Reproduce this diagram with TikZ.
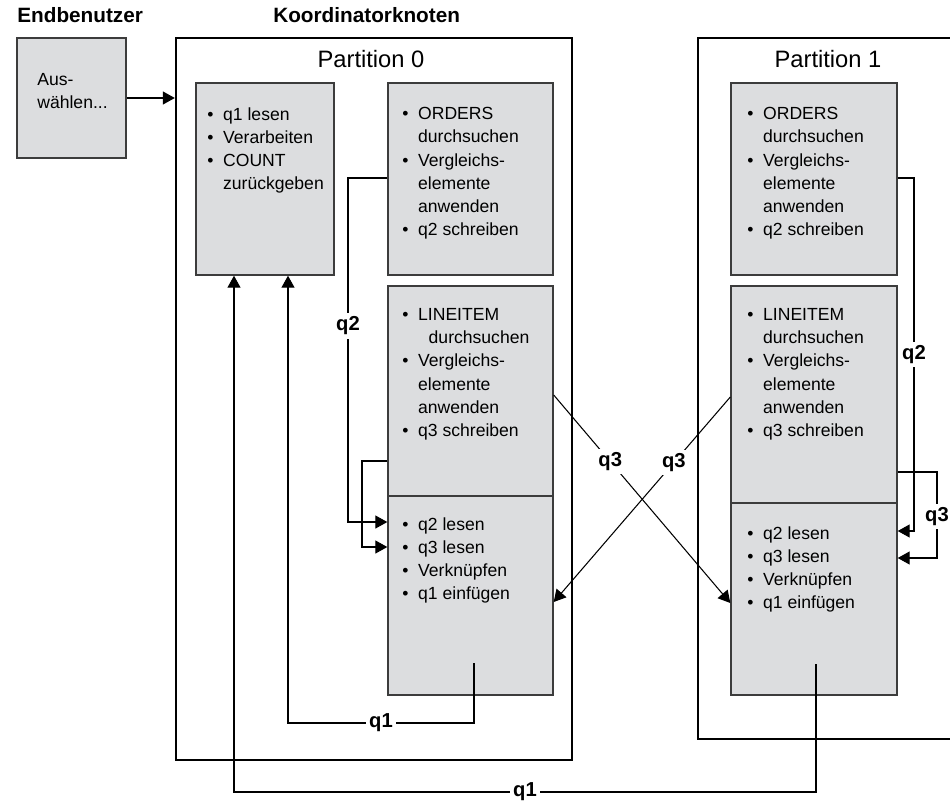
\documentclass[tikz,border=0pt]{standalone}
\usepackage{fontspec}
\setmainfont{Liberation Sans}
\usetikzlibrary{arrows.meta}
\definecolor{boxgray}{RGB}{220,221,223}
\definecolor{edgegray}{RGB}{60,60,60}
\newcommand{\bul}{\makebox[9pt][l]{\textbullet}}
\tikzset{
	partframe/.style={draw=black, line width=1.4pt},
	taskbox/.style={draw=edgegray, fill=boxgray, line width=0.8pt, inner sep=0pt},
	tasktext/.style={anchor=north west, inner sep=0pt, align=left, font=\fontsize{10}{13.2}\selectfont},
	flow/.style={draw=black, line width=0.6pt, -{Triangle[length=6.8pt,width=7.4pt]}},
	qlabel/.style={fill=white, inner sep=2pt, font=\fontsize{11.5}{13}\selectfont\bfseries},
	headline/.style={anchor=base west, inner sep=0pt, font=\fontsize{11.8}{14}\selectfont\bfseries},
	partlabel/.style={anchor=base, inner sep=0pt, font=\fontsize{13.5}{16}\selectfont}
}

\begin{document}
\begin{tikzpicture}[x=0.2mm, y=-0.2mm]
			%%%%% START %%%%%
			\useasboundingbox (0,0) rectangle (950,805);
			
			\node[headline] (user) at (17,23) {Endbenutzer};
			\node[headline] (coordhead) at (273,23) {Koordinatorknoten};
			
			\node[partframe, minimum width=79.2mm, minimum height=144.4mm] (part0) at (374,399) {};
			\draw[partframe] (950,38) -- (698,38) -- (698,739) -- (950,739);
			\node[partlabel] (part0lbl) at (371,68) {Partition 0};
			\node[partlabel] (part1lbl) at (828,68) {Partition 1};
			
			\node[taskbox, minimum width=21.8mm, minimum height=24mm] (aus) at (71.5,98) {};
			\node[taskbox, minimum width=27.6mm, minimum height=38.4mm] (coord) at (265,179) {};
			\node[taskbox, minimum width=33mm, minimum height=38.4mm] (ord0) at (470.5,179) {};
			\node[taskbox, minimum width=33mm, minimum height=42mm] (scan0) at (470.5,391) {};
			\node[taskbox, minimum width=33mm, minimum height=39.8mm] (join0) at (470.5,595.5) {};
			\node[taskbox, minimum width=33.2mm, minimum height=38.4mm] (ord1) at (814,179) {};
			\node[taskbox, minimum width=33.2mm, minimum height=43.4mm] (scan1) at (814,394.5) {};
			\node[taskbox, minimum width=33.2mm, minimum height=38.4mm] (join1) at (814,599) {};
			
			\node[tasktext] (austxt) at (37,73) {Aus-\\wählen...};
			\node[tasktext] (coordtxt) at (207,107) {\bul q1 lesen\\\bul Verarbeiten\\\bul COUNT\\\hspace*{9pt}zurückgeben};
			\node[tasktext] (ord0txt) at (402,107) {\bul ORDERS\\\hspace*{9pt}durchsuchen\\\bul Vergleichs-\\\hspace*{9pt}elemente\\\hspace*{9pt}anwenden\\\bul q2 schreiben};
			\node[tasktext] (scan0txt) at (402,308) {\bul LINEITEM\\\hspace*{15pt}durchsuchen\\\bul Vergleichs-\\\hspace*{9pt}elemente\\\hspace*{9pt}anwenden\\\bul q3 schreiben};
			\node[tasktext] (join0txt) at (402,517) {\bul q2 lesen\\\bul q3 lesen\\\bul Verknüpfen\\\bul q1 einfügen};
			\node[tasktext] (ord1txt) at (747,107) {\bul ORDERS\\\hspace*{9pt}durchsuchen\\\bul Vergleichs-\\\hspace*{9pt}elemente\\\hspace*{9pt}anwenden\\\bul q2 schreiben};
			\node[tasktext] (scan1txt) at (747,308) {\bul LINEITEM\\\hspace*{9pt}durchsuchen\\\bul Vergleichs-\\\hspace*{9pt}elemente\\\hspace*{9pt}anwenden\\\bul q3 schreiben};
			\node[tasktext] (join1txt) at (747,526) {\bul q2 lesen\\\bul q3 lesen\\\bul Verknüpfen\\\bul q1 einfügen};
			
			\draw[flow] (aus.east) -- (aus.east -| part0.west);
			
			% partition 0: local streams
			\draw[flow] (ord0.west |- 0,178) -- (348,178) -- node[qlabel, pos=0.43] (q2lbl0) {q2} (348,522) -- (join0.west |- 0,522);
			\draw[flow] (scan0.west |- 0,461) -- (362,461) -- (362,547) -- (join0.west |- 0,547);
			
			% partition 1: local streams
			\draw[flow] (ord1.east |- 0,178) -- (914,178) -- node[qlabel, pos=0.5] (q2lbl1) {q2} (914,531) -- (join1.east |- 0,531);
			\draw[flow] (scan1.east |- 0,472) -- (937,472) -- node[qlabel, pos=0.52] (q3lbl2) {q3} (937,558) -- (join1.east |- 0,558);
			
			% q3 across partitions
			\draw[flow] (scan0.east |- 0,395) -- node[qlabel, pos=0.32] (q3lbl0) {q3} (join1.west |- 0,603);
			\draw[flow] (scan1.west |- 0,397) -- node[qlabel, pos=0.32] (q3lbl1) {q3} (join0.east |- 0,602);
			
			% q1 back to the coordinator
			\coordinate (q1src0) at (474,663);
			\coordinate (q1src1) at (816,664);
			\draw[flow] (q1src0) -- (474,723) -- node[qlabel] (q1lbl0) {q1} (288,723) -- (coord.south -| 288,0);
			\draw[flow] (q1src1) -- (816,792) -- node[qlabel] (q1lbl1) {q1} (234,792) -- (coord.south -| 234,0);
			
			%%%%% END %%%%%
\end{tikzpicture}
\end{document}
